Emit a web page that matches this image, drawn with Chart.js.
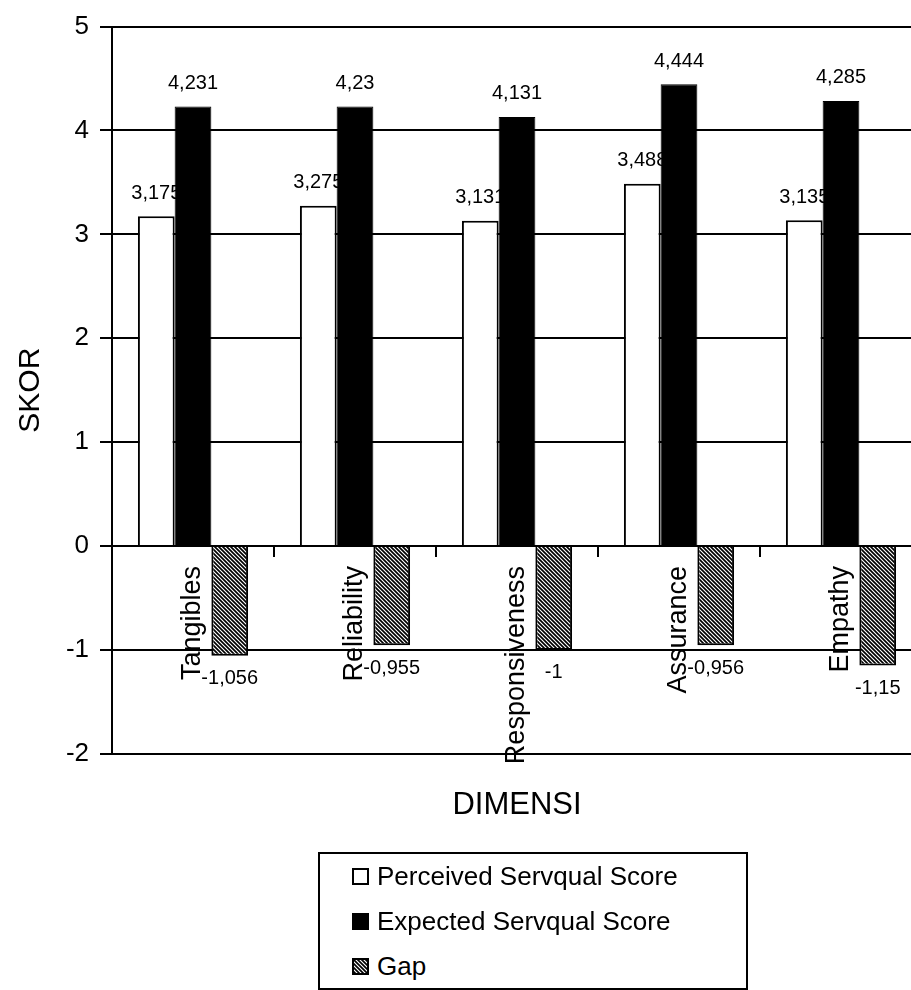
<!DOCTYPE html>
<html>
<head>
<meta charset="utf-8">
<title>SKOR per DIMENSI</title>
<script src="https://cdn.jsdelivr.net/npm/chart.js@4.4.1/dist/chart.umd.min.js"></script>
<style>
  html, body { margin: 0; padding: 0; background: #fff; overflow: hidden; }
  #wrap { position: relative; width: 925px; height: 990px; }
  #legend {
    position: absolute; left: 318px; top: 852px; width: 426px; height: 134px;
    border: 2px solid #000; background: #fff;
    font: 26px "Liberation Sans", Arial, sans-serif; color: #000;
  }
  .item { position: absolute; left: 32px; height: 45px; display: flex; align-items: center; white-space: nowrap; }
  .item canvas { margin-right: 8px; }
</style>
</head>
<body>
<div id="wrap">
  <canvas id="chart" width="925" height="990"></canvas>
  <div id="legend"></div>
</div>
<script>
  // data
  const categories = ["Tangibles", "Reliability", "Responsiveness", "Assurance", "Empathy"];
  const perceived = [3.175, 3.275, 3.131, 3.488, 3.135];
  const expected = [4.231, 4.23, 4.131, 4.444, 4.285];
  const gap = [-1.056, -0.955, -1, -0.956, -1.15];
  const seriesNames = ["Perceived Servqual Score", "Expected Servqual Score", "Gap"];

  const FONT = '"Liberation Sans", Arial, sans-serif';
  Chart.defaults.font.family = FONT;
  Chart.defaults.color = "#000";

  // diagonal hatch for the gap bars
  function makeHatch() {
    const pc = document.createElement("canvas");
    pc.width = 4; pc.height = 4;
    const p = pc.getContext("2d");
    p.fillStyle = "#fff";
    p.fillRect(0, 0, 4, 4);
    p.strokeStyle = "#000";
    p.lineWidth = 1.7;
    p.beginPath();
    p.moveTo(0, 0); p.lineTo(4, 4);
    p.moveTo(-1, 3); p.lineTo(1, 5);
    p.moveTo(3, -1); p.lineTo(5, 1);
    p.stroke();
    return p.createPattern(pc, "repeat");
  }
  const hatch = makeHatch();

  const fmt = (v) => String(v).replace(".", ",");

  function drawLabels(chart, idxs) {
    const ctx = chart.ctx;
    ctx.save();
    ctx.font = "20px " + FONT;
    ctx.fillStyle = "#000";
    ctx.textAlign = "center";
    ctx.textBaseline = "middle";
    idxs.forEach((i) => {
      const meta = chart.getDatasetMeta(i);
      meta.data.forEach((bar, j) => {
        const v = chart.data.datasets[i].data[j];
        const y = v >= 0 ? bar.y - 23 : bar.y + 23;
        ctx.fillText(fmt(v), bar.x, y);
      });
    });
    ctx.restore();
  }

  // perceived labels go under the bars (the expected bars cover their tail, as in the scan)
  const valueLabels = {
    id: "valueLabels",
    beforeDatasetsDraw(chart) { drawLabels(chart, [0]); },
    afterDatasetsDraw(chart) { drawLabels(chart, [1, 2]); },
  };

  const chart = new Chart(document.getElementById("chart"), {
    type: "bar",
    data: {
      labels: categories,
      datasets: [
        { label: seriesNames[0], data: perceived, backgroundColor: "#fff", borderColor: "#000", borderWidth: 2 },
        { label: seriesNames[1], data: expected, backgroundColor: "#000", borderColor: "#000", borderWidth: 1 },
        { label: seriesNames[2], data: gap, backgroundColor: hatch, borderColor: "#000", borderWidth: 2 },
      ],
    },
    options: {
      responsive: false,
      animation: false,
      events: [],
      datasets: { bar: { categoryPercentage: 0.68, barPercentage: 1 } },
      layout: { padding: { left: 0, right: 3, top: 24, bottom: 138 } },
      plugins: {
        legend: { display: false },
        tooltip: { enabled: false },
        title: {
          display: true,
          text: "DIMENSI",
          position: "bottom",
          fullSize: false,
          color: "#000",
          font: { size: 31, weight: "normal" },
          padding: { top: 33, bottom: 28 },
        },
      },
      scales: {
        x: {
          position: { y: 0 },
          offset: true,
          grid: { drawOnChartArea: false, drawTicks: true, tickLength: 10, color: "#000", lineWidth: 2 },
          border: { display: true, color: "#000", width: 2 },
          ticks: { minRotation: 90, maxRotation: 90, autoSkip: false, padding: 10, color: "#000", font: { size: 27 } },
        },
        y: {
          min: -2,
          max: 5,
          afterFit: (s) => { s.width = 112; },
          grid: { color: "#000", lineWidth: 2, tickLength: 12 },
          border: { display: true, color: "#000", width: 2 },
          ticks: { stepSize: 1, padding: 11, color: "#000", font: { size: 26 } },
          title: { display: true, text: "SKOR", color: "#000", font: { size: 30 }, padding: { top: 13, bottom: 0 } },
        },
      },
    },
    plugins: [valueLabels],
  });

  // html legend built from the datasets
  const legend = document.getElementById("legend");
  chart.data.datasets.forEach((ds, i) => {
    const row = document.createElement("div");
    row.className = "item";
    row.style.top = 45 * i + "px";
    const sw = document.createElement("canvas");
    sw.width = 17; sw.height = 17;
    const c = sw.getContext("2d");
    c.fillStyle = ds.backgroundColor;
    c.fillRect(0, 0, 17, 17);
    c.strokeStyle = "#000";
    c.lineWidth = 2;
    c.strokeRect(1, 1, 15, 15);
    row.appendChild(sw);
    row.appendChild(document.createTextNode(ds.label));
    legend.appendChild(row);
  });
</script>
</body>
</html>
